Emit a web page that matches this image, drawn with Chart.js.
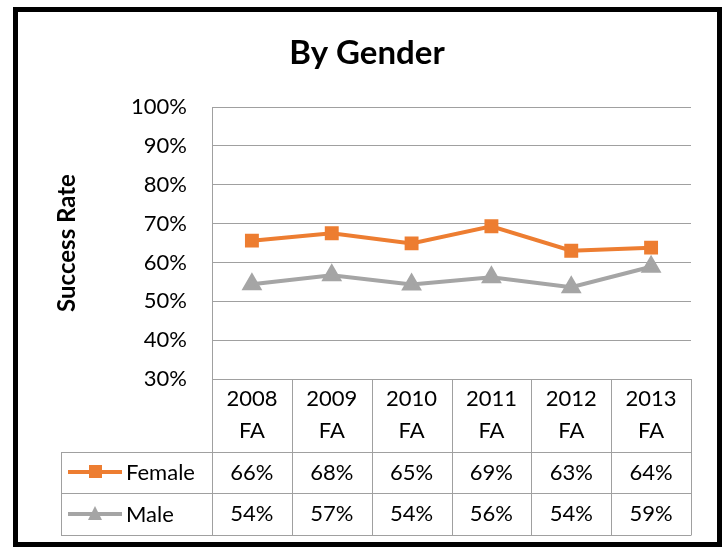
<!DOCTYPE html>
<html>
<head>
<meta charset="utf-8">
<script src="https://cdn.jsdelivr.net/npm/chart.js@4"></script>
<style>
  body { margin: 0; background: #fff; }
  #wrap { width: 727px; height: 548px; }
</style>
</head>
<body>
<div id="wrap"><canvas id="genderChart" width="727" height="548"></canvas></div>
<script>
const categories = ['2008 FA', '2009 FA', '2010 FA', '2011 FA', '2012 FA', '2013 FA'];
const female = [65.6, 67.5, 64.9, 69.3, 63.0, 63.8];
const male = [54.4, 56.7, 54.3, 56.2, 53.6, 58.9];
const yTicks = [30, 40, 50, 60, 70, 80, 90, 100];

const FONT = 'Lato, "Open Sans", sans-serif';
const ORANGE = '#ED7D31';
const GREY = '#A5A5A5';
const LINE = '#A0A0A0';

// excel style data table under the plot + outer frame + title
const tablePlugin = {
    id: 'dataTable',
    afterDraw(chart) {
        const c = chart.ctx;
        const area = chart.chartArea;
        const xs = chart.scales.x;
        const top = area.bottom;
        const rowH = [73, 41, 42];
        const legLeft = 61;
        const y1 = top + rowH[0];
        const y2 = y1 + rowH[1];
        const y3 = y2 + rowH[2];
        const band = (area.right - area.left) / categories.length;

        c.save();
        c.strokeStyle = LINE;
        c.lineWidth = 1;
        c.beginPath();
        c.moveTo(area.left, top + 0.5); c.lineTo(area.right, top + 0.5);
        [y1, y2, y3].forEach(y => { c.moveTo(legLeft, y + 0.5); c.lineTo(area.right, y + 0.5); });
        for (let i = 0; i <= categories.length; i++) {
            const x = Math.round(area.left + band * i) + 0.5;
            c.moveTo(x, top); c.lineTo(x, y3 + 0.5);
        }
        c.moveTo(legLeft + 0.5, y1); c.lineTo(legLeft + 0.5, y3 + 0.5);
        c.stroke();

        c.fillStyle = '#000';
        c.font = '22px ' + FONT;
        c.textAlign = 'center';
        c.textBaseline = 'middle';
        categories.forEach((cat, i) => {
            const x = xs.getPixelForValue(i);
            const parts = cat.split(' ');
            c.fillText(parts[0], x, top + 20);
            c.fillText(parts[1], x, top + 52);
            c.fillText(Math.round(female[i]) + '%', x, y1 + 21);
            c.fillText(Math.round(male[i]) + '%', x, y2 + 21);
        });

        // legend keys in the table
        const keys = [
            { name: 'Female', color: ORANGE, y: y1 + 20, shape: 'rect' },
            { name: 'Male', color: GREY, y: y2 + 21, shape: 'tri' }
        ];
        keys.forEach(k => {
            c.strokeStyle = k.color;
            c.fillStyle = k.color;
            c.lineWidth = 4;
            c.beginPath();
            c.moveTo(68, k.y); c.lineTo(122, k.y);
            c.stroke();
            if (k.shape === 'rect') {
                c.fillRect(89, k.y - 7, 13, 13);
            } else {
                c.beginPath();
                c.moveTo(95, k.y - 8); c.lineTo(102, k.y + 6); c.lineTo(88, k.y + 6);
                c.closePath(); c.fill();
            }
            c.fillStyle = '#000';
            c.textAlign = 'left';
            c.fillText(k.name, 126, k.y + 1);
        });

        // title
        c.font = 'bold 33px ' + FONT;
        c.textAlign = 'center';
        c.textBaseline = 'alphabetic';
        c.fillText('By Gender', 367, 64);

        // outer frame
        c.strokeStyle = '#000';
        c.lineWidth = 5;
        c.strokeRect(15.5, 9.5, 704, 535);
        c.restore();
    }
};

new Chart(document.getElementById('genderChart'), {
    type: 'line',
    data: {
        labels: categories,
        datasets: [
            {
                label: 'Female',
                data: female,
                borderColor: ORANGE,
                backgroundColor: ORANGE,
                borderWidth: 4,
                pointStyle: 'rect',
                pointRadius: 7,
                pointHoverRadius: 7,
                fill: false,
                tension: 0
            },
            {
                label: 'Male',
                data: male,
                borderColor: GREY,
                backgroundColor: GREY,
                borderWidth: 4,
                pointStyle: 'triangle',
                pointRadius: 8,
                pointHoverRadius: 8,
                fill: false,
                tension: 0
            }
        ]
    },
    options: {
        responsive: false,
        animation: false,
        layout: { padding: { left: 0, top: 107, right: 36, bottom: 169 } },
        plugins: {
            legend: { display: false },
            title: { display: false },
            tooltip: { enabled: false }
        },
        scales: {
            x: {
                type: 'category',
                offset: true,
                display: false
            },
            y: {
                min: 30,
                max: 100,
                afterFit: s => { s.width = 212; },
                afterBuildTicks: s => { s.ticks = yTicks.map(v => ({ value: v })); },
                border: { display: true, color: LINE, width: 1 },
                grid: { color: LINE, lineWidth: 1, drawTicks: false },
                ticks: {
                    padding: 25,
                    color: '#000',
                    font: { family: FONT, size: 22 },
                    callback: v => v + '%'
                },
                title: {
                    display: true,
                    text: 'Success Rate',
                    color: '#000',
                    font: { family: FONT, size: 24, weight: 'bold' },
                    padding: { top: 53, bottom: 0 }
                }
            }
        }
    },
    plugins: [tablePlugin]
});
</script>
</body>
</html>
